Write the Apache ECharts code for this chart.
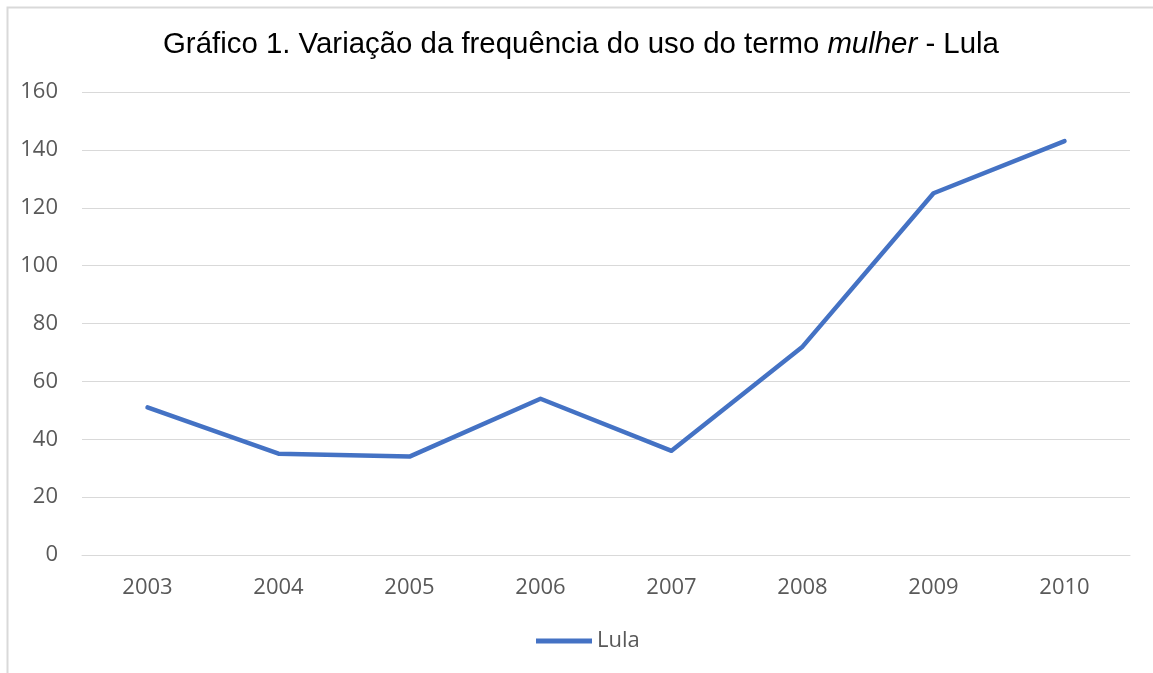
<!DOCTYPE html>
<html>
<head>
<meta charset="utf-8">
<script src="https://cdn.jsdelivr.net/npm/echarts@6/dist/echarts.min.js"></script>
<style>
html,body{margin:0;padding:0;background:#fff;}
#c{width:1153px;height:673px;}
</style>
</head>
<body>
<div id="c"></div>
<script>
var years = ['2003','2004','2005','2006','2007','2008','2009','2010'];
var lulaValues = [51, 35, 34, 54, 36, 72, 125, 143];
var seriesName = 'Lula';

var chart = echarts.init(document.getElementById('c'), null, {renderer:'canvas'});
var labelFont = '"Open Sans", "Liberation Sans", sans-serif';
chart.setOption({
  backgroundColor:'#ffffff',
  animation:false,
  graphic:[{
    type:'rect', left:5, top:5, silent:true,
    shape:{width:1170, height:690},
    style:{fill:'none', stroke:'#d9d9d9', lineWidth:2}
  }],
  title:{
    text:'{n|Gráfico 1. Variação da frequência do uso do termo }{i|mulher}{n| - Lula}',
    left:158, top:25,
    textStyle:{
      rich:{
        n:{fontFamily:'"Liberation Sans", Arial, sans-serif', fontSize:29.4, fontWeight:'normal', color:'#000'},
        i:{fontFamily:'"Liberation Sans", Arial, sans-serif', fontSize:29.4, fontWeight:'normal', fontStyle:'italic', color:'#000'}
      }
    }
  },
  legend:{
    bottom:16, left:531,
    itemWidth:56, itemHeight:5, itemGap:4,
    textStyle:{fontFamily:labelFont, fontSize:22, color:'#595959', padding:[0,0,0,0]},
    data:[{name:seriesName, icon:'path://M0,0 L56,0 L56,5 L0,5 Z'}]
  },
  grid:{left:82, right:23, top:92, bottom:118},
  xAxis:{
    type:'category', data:years, boundaryGap:true,
    axisLine:{show:true, lineStyle:{color:'#d9d9d9', width:1}},
    axisTick:{show:false},
    axisLabel:{fontFamily:labelFont, fontSize:22, color:'#595959', margin:22}
  },
  yAxis:{
    type:'value', min:0, max:160, interval:20,
    axisLine:{show:false}, axisTick:{show:false},
    splitLine:{lineStyle:{color:'#d9d9d9', width:1}},
    axisLabel:{fontFamily:labelFont, fontSize:22, color:'#595959', margin:24}
  },
  series:[{
    name:seriesName, type:'line', data:lulaValues,
    symbol:'none', smooth:false,
    lineStyle:{color:'#4472C4', width:4.5, cap:'round', join:'round'},
    itemStyle:{color:'#4472C4'}
  }]
});
</script>
</body>
</html>
